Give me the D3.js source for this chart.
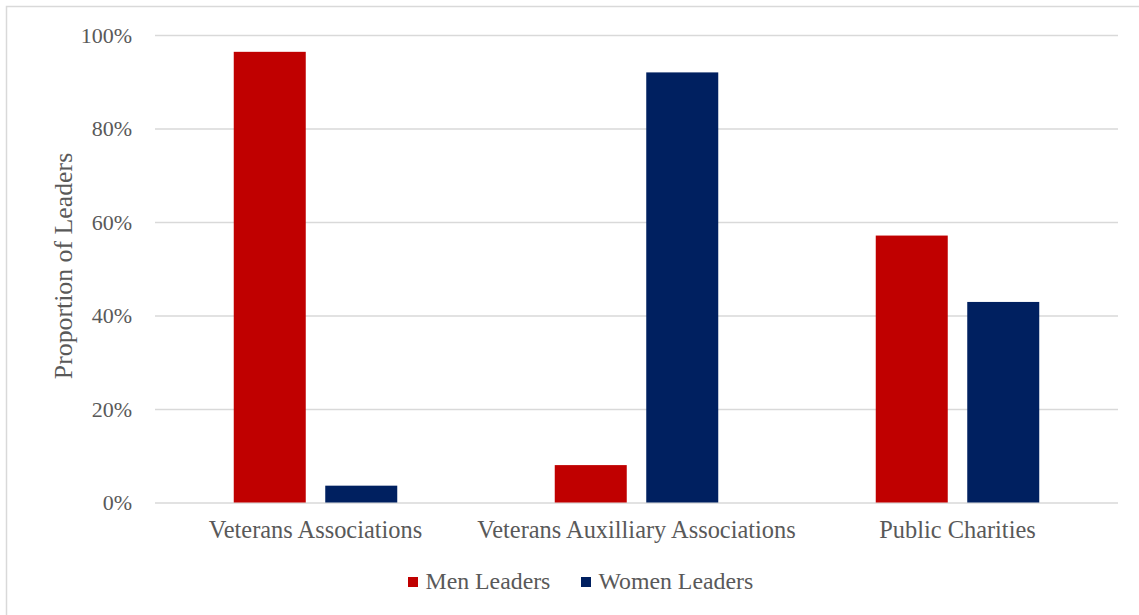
<!DOCTYPE html>
<html>
<head>
<meta charset="utf-8">
<script src="https://cdn.jsdelivr.net/npm/d3@7"></script>
<style>
  html, body { margin: 0; padding: 0; background: #ffffff; }
  svg { display: block; }
  text { font-family: "Liberation Serif", "Times New Roman", serif; fill: #595959; }
</style>
</head>
<body>
<svg id="chart" width="1139" height="615"></svg>
<script>
// Share of leaders by organisation type
const categories = ["Veterans Associations", "Veterans Auxilliary Associations", "Public Charities"];
const seriesNames = ["Men Leaders", "Women Leaders"];
const menValues = [0.964, 0.080, 0.571];
const womenValues = [0.036, 0.920, 0.429];
const tickValues = [0, 0.2, 0.4, 0.6, 0.8, 1.0];
const seriesColors = ["#C00000", "#002060"];

const svg = d3.select("#chart");
const W = 1139, H = 615;

// chart frame
svg.append("rect")
  .attr("x", 6.5).attr("y", 6.5)
  .attr("width", W + 20).attr("height", H + 20)
  .attr("fill", "#ffffff").attr("stroke", "#D9D9D9").attr("stroke-width", 1.5);

const plot = { left: 155, right: 1118, top: 35, bottom: 502.5 };

const x0 = d3.scaleBand().domain(categories).range([plot.left, plot.right]).paddingInner(0).paddingOuter(0);
const y = d3.scaleLinear().domain([0, 1]).range([plot.bottom, plot.top]);

// bar geometry within each category band
const barW = 72, barGap = 19.5;
const x1 = d3.scaleOrdinal().domain(seriesNames)
  .range([-(barW + barGap / 2), barGap / 2]);

// gridlines
const yAxis = d3.axisLeft(y).tickValues(tickValues)
  .tickSize(-(plot.right - plot.left))
  .tickFormat(d3.format(".0%"));
const gy = svg.append("g").attr("transform", `translate(${plot.left},0)`).call(yAxis);
gy.select(".domain").remove();
gy.selectAll(".tick line").attr("stroke", "#D9D9D9").attr("stroke-width", 1.6);
gy.selectAll(".tick text")
  .attr("x", -23).attr("dy", "0.33em")
  .style("font-size", "22px")
  .style("font-family", "'Liberation Serif', 'Times New Roman', serif")
  .attr("fill", "#595959");

// bars
const rows = categories.map((c, i) => ({ category: c, values: [menValues[i], womenValues[i]] }));
const groups = svg.append("g").selectAll("g").data(rows).join("g")
  .attr("transform", d => `translate(${x0(d.category) + x0.bandwidth() / 2},0)`);
groups.selectAll("rect")
  .data(d => d.values.map((v, j) => ({ series: seriesNames[j], value: v, j })))
  .join("rect")
  .attr("x", d => x1(d.series))
  .attr("width", barW)
  .attr("y", d => y(d.value))
  .attr("height", d => y(0) - y(d.value))
  .attr("fill", d => seriesColors[d.j]);

// category labels
const xAxis = d3.axisBottom(x0).tickSize(0).tickPadding(0);
const gx = svg.append("g").attr("transform", `translate(0,${plot.bottom})`).call(xAxis);
gx.select(".domain").remove();
gx.selectAll(".tick text")
  .attr("y", 35.5).attr("dy", 0)
  .style("font-size", "24.4px")
  .style("font-family", "'Liberation Serif', 'Times New Roman', serif")
  .attr("fill", "#595959");

// y axis title
svg.append("text")
  .attr("transform", "translate(72,266) rotate(-90)")
  .attr("text-anchor", "middle")
  .style("font-size", "25.8px")
  .text("Proportion of Leaders");

// legend
const legendX = [408, 581];
const legend = svg.append("g").selectAll("g").data(seriesNames).join("g")
  .attr("transform", (d, i) => `translate(${legendX[i]},0)`);
legend.append("rect")
  .attr("x", 0).attr("y", 577).attr("width", 10).attr("height", 10)
  .attr("fill", (d, i) => seriesColors[i]);
legend.append("text")
  .attr("x", 17.5).attr("y", 588.5)
  .style("font-size", "23.8px")
  .text(d => d);
</script>
</body>
</html>
